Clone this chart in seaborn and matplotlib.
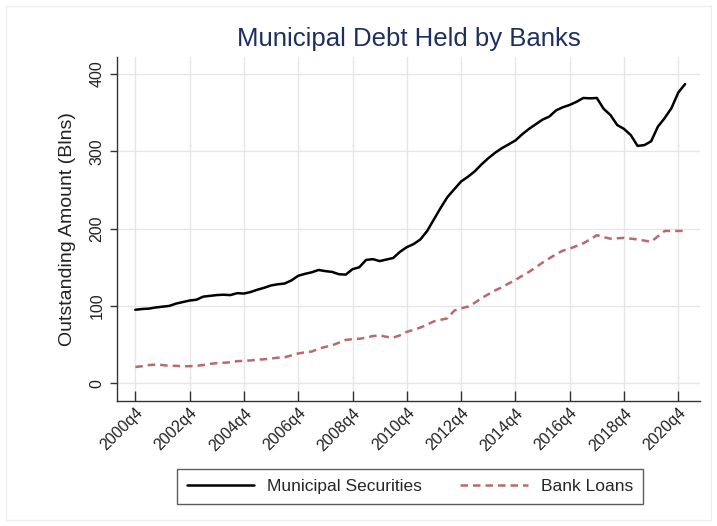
import matplotlib
matplotlib.use("Agg")
import matplotlib.pyplot as plt
import seaborn as sns
import pandas as pd
import numpy as np

# Quarterly observations, 2000q4 through 2021q1 (billions of dollars)
start_year, start_q = 2000, 4
municipal_securities = [
    95, 96, 96.5, 98, 99, 100, 103, 105, 107, 108,
    112, 113, 114, 114.5, 114, 116.5, 116, 118, 121, 123.5,
    126.5, 128, 129, 133, 139, 141.5, 143.5, 146.5, 145, 144,
    141, 140.5, 147.5, 150, 159.5, 160.5, 158, 160, 162, 170,
    176, 180, 186, 197, 212, 227, 241, 251, 261, 267,
    274, 283, 291, 298, 304, 309, 314, 322, 329, 335,
    341, 345, 353, 357, 360, 364, 369, 368.5, 369, 355,
    347, 334, 329, 321, 307, 308, 313, 332, 343, 356,
    376, 387,
]
bank_loans = [
    21, 22, 23.5, 24, 23.5, 22.5, 22.5, 22, 22, 22.5,
    23.5, 25, 26, 26.5, 27, 28.5, 29, 29.5, 30.5, 31,
    32, 33, 33.5, 36, 38.5, 40, 41, 44.5, 47, 49,
    52.5, 56, 57, 57.5, 59, 61, 62, 60, 59, 62,
    66.5, 69, 72, 76, 80, 82, 84, 94, 97, 99,
    104, 110, 115, 120, 124, 129, 133.5, 139, 144, 150,
    156, 161.5, 167, 171.5, 174, 177.5, 181, 186, 191.5, 189,
    187, 187.5, 188, 187, 186, 184.5, 183, 190, 197, 197,
    197, 197,
]
tick_labels = ["2000q4", "2002q4", "2004q4", "2006q4", "2008q4", "2010q4",
               "2012q4", "2014q4", "2016q4", "2018q4", "2020q4"]
y_ticks = [0, 100, 200, 300, 400]

n = len(municipal_securities)
quarter_index = np.arange(n)
df = pd.DataFrame({
    "q": np.concatenate([quarter_index, quarter_index]),
    "amount": municipal_securities + bank_loans,
    "series": ["Municipal Securities"] * n + ["Bank Loans"] * n,
})

sns.set_theme(style="white")
plt.rcParams["font.family"] = ["Liberation Sans", "DejaVu Sans"]

fig = plt.figure(figsize=(7.17, 5.26), dpi=100)
ax = fig.add_axes([117 / 717, 1 - 401 / 526, (700 - 117) / 717, (401 - 57) / 526])

sns.lineplot(data=df[df.series == "Municipal Securities"], x="q", y="amount",
             color="black", linewidth=1.8, ax=ax, label="Municipal Securities")
sns.lineplot(data=df[df.series == "Bank Loans"], x="q", y="amount",
             color="#b86a70", linewidth=1.8, ax=ax, label="Bank Loans",
             dashes=False)
ax.lines[1].set_dashes([3.0, 2.0])

ax.set_xlim(-2.7, 83.2)
ax.set_ylim(-23, 422)

tick_pos = [8 * k for k in range(len(tick_labels))]
ax.set_xticks(tick_pos)
ax.set_xticklabels(tick_labels, rotation=45, ha="right", rotation_mode="anchor",
                   fontsize=11.5, color="#222222")
ax.set_yticks(y_ticks)
ax.set_yticklabels([str(v) for v in y_ticks], rotation=90, va="center",
                   fontsize=11.5, color="#222222")

ax.tick_params(axis="x", direction="in", length=7.5, width=1.0, color="#333333", pad=3)
ax.tick_params(axis="y", direction="out", length=5, width=1.0, color="#333333", pad=4)
ax.tick_params(bottom=True, left=True)

ax.grid(True, color="#e6e6e6", linewidth=1.0)
for side in ["top", "right"]:
    ax.spines[side].set_visible(False)
for side in ["left", "bottom"]:
    ax.spines[side].set_color("#333333")
    ax.spines[side].set_linewidth(1.0)

ax.set_xlabel("")
ax.set_ylabel("Outstanding Amount (Blns)", fontsize=14, color="#222222", labelpad=10)
ax.set_title("Municipal Debt Held by Banks", fontsize=18.5, color="#1d2f5e", pad=8)

handles, labels = ax.get_legend_handles_labels()
ax.get_legend().remove()
leg = fig.legend(handles, labels, loc="center", bbox_to_anchor=(410 / 717, 1 - 486.5 / 526),
                 ncol=2, fontsize=12.5, frameon=True, fancybox=False,
                 edgecolor="#333333", handlelength=3.9, handletextpad=0.75,
                 columnspacing=2.2, borderpad=0.55)
leg.get_frame().set_linewidth(1.0)

# thin outer frame around the graph region
fig.patches.append(plt.Rectangle((6 / 717, 6 / 526), 705 / 717, 514 / 526,
                                 transform=fig.transFigure, fill=False,
                                 edgecolor="#eeeeee", linewidth=1.0))

fig.savefig("out.png", dpi=100)
